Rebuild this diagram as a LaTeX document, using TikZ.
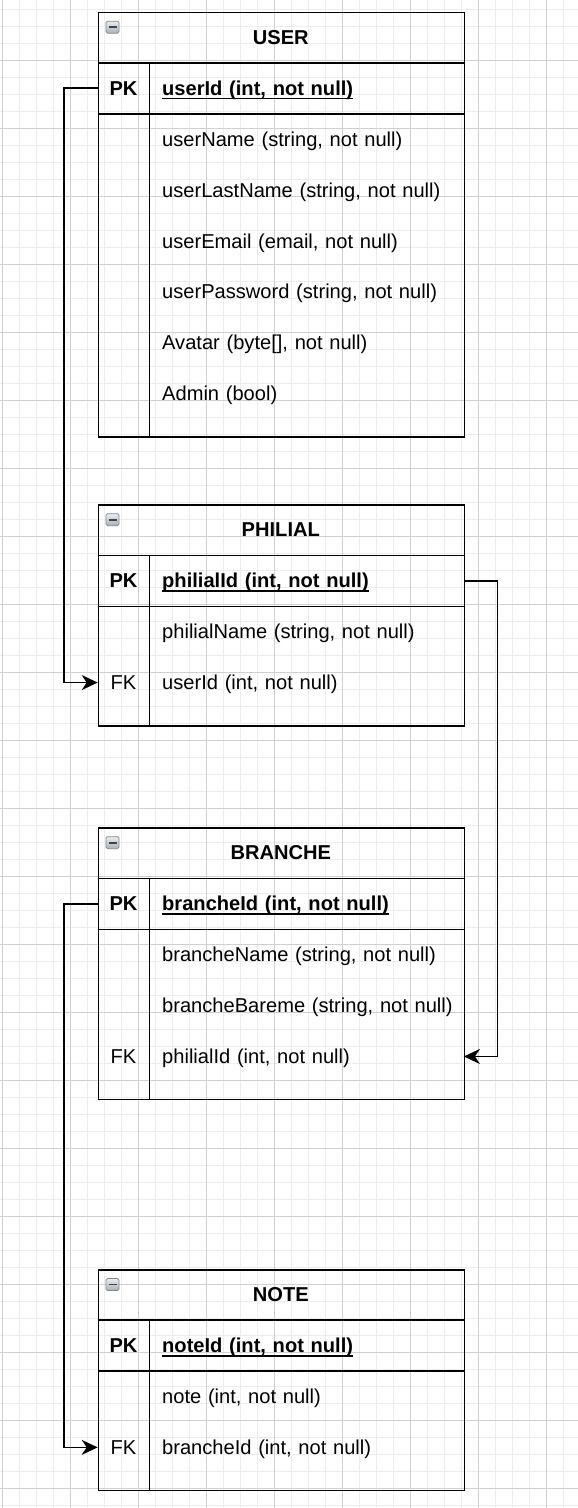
\documentclass[tikz,border=0pt]{standalone}
\usepackage{fontspec}
\setmainfont{Liberation Sans}
\usetikzlibrary{arrows.meta}
\definecolor{gridlight}{HTML}{EDEDED}
\definecolor{griddark}{HTML}{D0D0D0}
\definecolor{iconTop}{HTML}{E9EDF1}
\definecolor{iconBot}{HTML}{A8B0B9}
\definecolor{iconEdge}{HTML}{7F878F}
\definecolor{iconMinus}{HTML}{3E4349}
\newcommand\ulfield[1]{\setbox0\hbox{#1}\makebox[0pt][l]{\rule[-3.9pt]{\wd0}{1.3pt}}\box0}
\newcommand\erIcon[2]{%
  \shadedraw[top color=iconTop, bottom color=iconBot, draw=iconEdge, line width=0.7pt, rounded corners=1.5pt]
    ({#1+8.3},{#2+9.5}) rectangle ({#1+21.3},{#2+21.5});
  \draw[line width=1.9pt, draw=iconMinus] ({#1+10.8},{#2+15.5}) -- ({#1+18.8},{#2+15.5});
}
\tikzset{
  txt/.style={font=\fontsize{20.1}{24}\selectfont},
  txtb/.style={font=\fontsize{20.1}{24}\selectfont\bfseries},
  gridminor/.style={draw=gridlight, line width=1.1pt},
  gridmajor/.style={draw=griddark, line width=1pt},
  tablebox/.style={draw=black, line width=1.7pt, minimum width=365.8pt, inner sep=0pt, anchor=north west},
  sep/.style={draw=black, line width=1.7pt},
  titlecell/.style={txtb, minimum width=365.8pt, minimum height=50.9pt, inner sep=0pt, anchor=north west, text height=18.4pt, text depth=4.3pt},
  keycell/.style={txt, minimum width=51.3pt, minimum height=50.9pt, inner sep=0pt, anchor=north west, text height=18.4pt, text depth=4.3pt},
  pkkey/.style={keycell, txtb},
  fieldcell/.style={txt, anchor=north west, text width=288.5pt, inner xsep=13pt, inner ysep=0pt, minimum height=50.9pt, align=left, text height=18.4pt, text depth=4.3pt},
  pkfield/.style={fieldcell, txtb},
  conn/.style={draw=black, line width=1.7pt, -{Stealth[length=16pt,width=15pt,inset=5pt]}}
}
\begin{document}
\begin{tikzpicture}[x=1pt, y=-1pt]
\useasboundingbox (0,0) rectangle (578,1508);
\fill[white] (0,0) rectangle (578,1508);
% grid
\foreach \i in {0,...,34} \draw[gridminor] ({2.7+17*\i},0) -- ({2.7+17*\i},1508);
\foreach \i in {0,...,88} \draw[gridminor] (0,{9.7+17*\i}) -- (578,{9.7+17*\i});
\foreach \i in {0,...,8} \draw[gridmajor] ({2.7+68*\i},0) -- ({2.7+68*\i},1508);
\foreach \i in {0,...,21} \draw[gridmajor] (0,{60.7+68*\i}) -- (578,{60.7+68*\i});

% ---------- USER ----------
\node[tablebox, minimum height=424.2pt] (user) at (97.7,11.7) {};
\node[titlecell] (userT) at (97.7,11.7) {USER};
\erIcon{97.7}{11.7}
\draw[sep] (userT.south west) -- (userT.south east);
\node[pkkey] (userPK) at (97.7,62.6) {PK};
\node[pkfield] (userPKf) at (149,62.6) {\ulfield{userId (int, not null)}};
\draw[sep] (userPK.south west) -- (userPKf.south east);
\draw[sep] (userPK.north east) -- (userPK.north east |- user.south);
\node[fieldcell] (userF1) at (149,113.5) {userName (string, not null)};
\node[fieldcell] (userF2) at (149,164.4) {userLastName (string, not null)};
\node[fieldcell] (userF3) at (149,215.3) {userEmail (email, not null)};
\node[fieldcell] (userF4) at (149,266.2) {userPassword (string, not null)};
\node[fieldcell] (userF5) at (149,317.1) {Avatar (byte[], not null)};
\node[fieldcell] (userF6) at (149,368.0) {Admin (bool)};

% ---------- PHILIAL ----------
\node[tablebox, minimum height=220.6pt] (phil) at (97.7,504.2) {};
\node[titlecell] (philT) at (97.7,504.2) {PHILIAL};
\erIcon{97.7}{504.2}
\draw[sep] (philT.south west) -- (philT.south east);
\node[pkkey] (philPK) at (97.7,555.1) {PK};
\node[pkfield] (philPKf) at (149,555.1) {\ulfield{philialId (int, not null)}};
\draw[sep] (philPK.south west) -- (philPKf.south east);
\draw[sep] (philPK.north east) -- (philPK.north east |- phil.south);
\node[fieldcell] (philF1) at (149,606.0) {philialName (string, not null)};
\node[keycell] (philFK) at (97.7,656.9) {FK};
\node[fieldcell] (philF2) at (149,656.9) {userId (int, not null)};

% ---------- BRANCHE ----------
\node[tablebox, minimum height=271.5pt] (br) at (97.7,827.2) {};
\node[titlecell] (brT) at (97.7,827.2) {BRANCHE};
\erIcon{97.7}{827.2}
\draw[sep] (brT.south west) -- (brT.south east);
\node[pkkey] (brPK) at (97.7,878.1) {PK};
\node[pkfield] (brPKf) at (149,878.1) {\ulfield{brancheId (int, not null)}};
\draw[sep] (brPK.south west) -- (brPKf.south east);
\draw[sep] (brPK.north east) -- (brPK.north east |- br.south);
\node[fieldcell] (brF1) at (149,929.0) {brancheName (string, not null)};
\node[fieldcell] (brF2) at (149,979.9) {\mbox{brancheBareme (string, not null)}};
\node[keycell] (brFK) at (97.7,1030.8) {FK};
\node[fieldcell] (brF3) at (149,1030.8) {philialId (int, not null)};

% ---------- NOTE ----------
\node[tablebox, minimum height=220.6pt] (note) at (97.7,1269.0) {};
\node[titlecell] (noteT) at (97.7,1269.0) {NOTE};
\erIcon{97.7}{1269.0}
\draw[sep] (noteT.south west) -- (noteT.south east);
\node[pkkey] (notePK) at (97.7,1319.9) {PK};
\node[pkfield] (notePKf) at (149,1319.9) {\ulfield{noteId (int, not null)}};
\draw[sep] (notePK.south west) -- (notePKf.south east);
\draw[sep] (notePK.north east) -- (notePK.north east |- note.south);
\node[fieldcell] (noteF1) at (149,1370.8) {note (int, not null)};
\node[keycell] (noteFK) at (97.7,1421.7) {FK};
\node[fieldcell] (noteF2) at (149,1421.7) {brancheId (int, not null)};

% ---------- connectors ----------
\draw[conn] (userPK.west) -- ++(-33.7,0) |- (philFK.west);
\draw[conn] (philPKf.east) -- ++(33.7,0) |- (brF3.east);
\draw[conn] (brPK.west) -- ++(-33.7,0) |- (noteFK.west);
\end{tikzpicture}
\end{document}
